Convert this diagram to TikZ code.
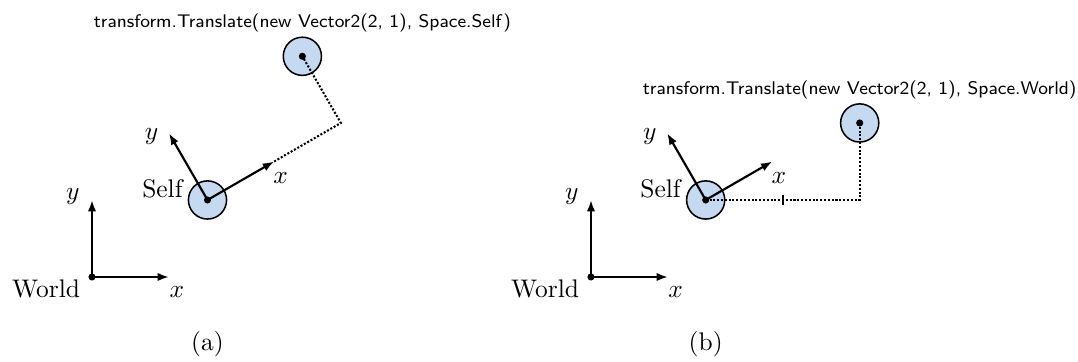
\documentclass[tikz,border=0pt]{standalone}
\usetikzlibrary{arrows.meta}
\definecolor{ballfill}{RGB}{197,217,241}
\begin{document}
\begin{tikzpicture}[x=30.26pt,y=30.26pt,
  axis/.style={line width=0.85pt,-{Latex[length=4.5pt,width=3.3pt]}},
  ball/.style={circle,draw,line width=0.6pt,fill=ballfill,minimum size=15pt,inner sep=0pt},
  centerdot/.style={fill,circle,inner sep=0pt,minimum size=2.8pt},
  trail/.style={line width=0.8pt,dash pattern=on 0.8pt off 0.7pt},
  tickmark/.style={line width=0.8pt},
  lbl/.style={inner sep=0pt},
  title/.style={font=\fontsize{7.2}{8.6}\selectfont\sffamily,inner sep=1.5pt,anchor=south},
]
\useasboundingbox (-1.1948,-1.104) rectangle (12.805,3.597);

% ---------- (a) ----------
\coordinate (wa) at (0,0);
\coordinate (wax) at (1,0);
\coordinate (way) at (0,1);
\node[ball] (sa) at (1.5,1) {};
\coordinate (sax) at ([shift={(30:1)}]sa.center);
\coordinate (say) at ([shift={(120:1)}]sa.center);
\coordinate (ca) at ([shift={(30:2)}]sa.center);
\node[ball] (ta) at ([shift={(120:1)}]ca) {};
\node[title] (tta) at (ta.north) {transform.Translate(new Vector2(2, 1), Space.Self)};

\draw[trail] (sax) -- (ca) -- (ta.center);
\draw[axis] (wa) -- (wax);
\draw[axis] (wa) -- (way);
\draw[axis] (sa.center) -- (sax);
\draw[axis] (sa.center) -- (say);
\node[centerdot] (dwa) at (wa) {};
\node[centerdot] (dsa) at (sa.center) {};
\node[centerdot] (dta) at (ta.center) {};

\node[lbl,anchor=north east,xshift=-4.5pt,yshift=-1pt] (lwa) at (wa) {World};
\node[lbl,anchor=base west,yshift=-7.9pt] (lwax) at (wax) {$x$};
\node[lbl,anchor=base east,xshift=-4.7pt] (lway) at (way) {$y$};
\node[lbl,anchor=base east,inner sep=1.8pt,yshift=0.8pt] (lsa) at (sa.west) {Self};
\node[lbl,anchor=base west,xshift=-0.5pt,yshift=-8.8pt] (lsax) at (sax) {$x$};
\node[lbl,anchor=base east,xshift=-4pt,yshift=-2.5pt] (lsay) at (say) {$y$};
\node[anchor=base] (capa) at (1.5,-0.956) {(a)};

% ---------- (b) ----------
\coordinate (wb) at (6.48,0);
\coordinate (wbx) at (7.48,0);
\coordinate (wby) at (6.48,1);
\node[ball] (sb) at (7.97,1) {};
\coordinate (sbx) at ([shift={(30:1)}]sb.center);
\coordinate (sby) at ([shift={(120:1)}]sb.center);
\coordinate (kb) at ([shift={(1,0)}]sb.center);
\coordinate (cb) at ([shift={(2,0)}]sb.center);
\node[ball] (tb) at ([shift={(0,1)}]cb) {};
\node[title] (ttb) at (tb.north) {transform.Translate(new Vector2(2, 1), Space.World)};

\draw[trail] (sb.center) -- (cb) -- (tb.center);
\draw[tickmark] ([yshift=1.8pt]kb) -- ([yshift=-1.8pt]kb);
\draw[axis] (wb) -- (wbx);
\draw[axis] (wb) -- (wby);
\draw[axis] (sb.center) -- (sbx);
\draw[axis] (sb.center) -- (sby);
\node[centerdot] (dwb) at (wb) {};
\node[centerdot] (dsb) at (sb.center) {};
\node[centerdot] (dtb) at (tb.center) {};

\node[lbl,anchor=north east,xshift=-4.5pt,yshift=-1pt] (lwb) at (wb) {World};
\node[lbl,anchor=base west,yshift=-7.9pt] (lwbx) at (wbx) {$x$};
\node[lbl,anchor=base east,xshift=-4.7pt] (lwby) at (wby) {$y$};
\node[lbl,anchor=base east,inner sep=1.8pt,yshift=0.8pt] (lsb) at (sb.west) {Self};
\node[lbl,anchor=base west,xshift=-0.5pt,yshift=-8.8pt] (lsbx) at (sbx) {$x$};
\node[lbl,anchor=base east,xshift=-4pt,yshift=-2.5pt] (lsby) at (sby) {$y$};
\node[anchor=base] (capb) at (7.97,-0.956) {(b)};
\end{tikzpicture}
\end{document}
